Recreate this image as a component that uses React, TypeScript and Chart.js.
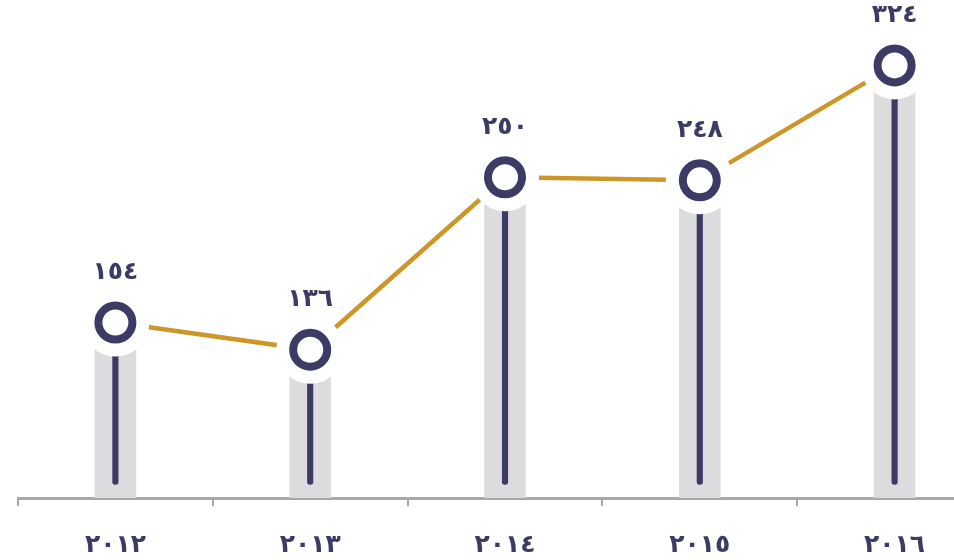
import React, { useEffect, useRef } from "react";
import { Chart, registerables } from "chart.js";

Chart.register(...registerables);

const years = [2012, 2013, 2014, 2015, 2016];
const values = [154, 136, 250, 248, 324];
const stemStart = 47;
const yMin = 38;
const yMax = 354;

const NAVY = "#3c3b66";
const GOLD = "#cc9629";
const GRAY = "#dcdcde";
const AXIS = "#a8a8a8";
const FONT = "'DejaVu Sans', sans-serif";

const toArabic = (n: number) =>
  String(n).replace(/[0-9]/g, (d) => "٠١٢٣٤٥٦٧٨٩"[+d]);

const valueLabels = {
  id: "valueLabels",
  afterDatasetsDraw(chart: any) {
    const meta = chart.getDatasetMeta(3);
    const ctx = chart.ctx;
    ctx.save();
    ctx.font = `bold 25px ${FONT}`;
    ctx.fillStyle = NAVY;
    ctx.textAlign = "center";
    ctx.textBaseline = "middle";
    meta.data.forEach((pt: any, i: number) => {
      ctx.fillText(toArabic(values[i]), pt.x, pt.y - 50);
    });
    ctx.restore();
  },
};

export default function App() {
  const ref = useRef<HTMLCanvasElement>(null);
  useEffect(() => {
    const chart = new Chart(ref.current as HTMLCanvasElement, {
      type: "bar",
      data: {
        labels: years.map(toArabic),
        datasets: [
          {
            type: "bar",
            data: values,
            backgroundColor: GRAY,
            barThickness: 41,
            grouped: false,
            order: 4,
          } as any,
          {
            type: "bar",
            data: values.map((v) => [stemStart, v]),
            backgroundColor: NAVY,
            barThickness: 5.5,
            borderRadius: 3,
            borderSkipped: false,
            grouped: false,
            order: 3,
          } as any,
          {
            type: "line",
            data: values,
            borderColor: GOLD,
            borderWidth: 4.5,
            tension: 0,
            pointRadius: 34,
            pointHoverRadius: 34,
            pointBackgroundColor: "#ffffff",
            pointBorderWidth: 0,
            clip: false,
            order: 2,
          } as any,
          {
            type: "line",
            data: values,
            showLine: false,
            pointRadius: 17,
            pointHoverRadius: 17,
            pointBackgroundColor: "#ffffff",
            pointBorderColor: NAVY,
            pointBorderWidth: 8,
            clip: false,
            order: 1,
          } as any,
        ],
      },
      options: {
        animation: false,
        responsive: true,
        maintainAspectRatio: false,
        layout: {
          autoPadding: false,
          padding: { left: 18, right: 8, top: 20, bottom: 0 },
        },
        plugins: { legend: { display: false }, tooltip: { enabled: false } },
        events: [],
        scales: {
          x: {
            offset: true,
            grid: {
              offset: true,
              drawOnChartArea: false,
              drawTicks: true,
              tickLength: 8,
              color: AXIS,
              lineWidth: 2,
            },
            border: { display: true, color: AXIS, width: 3 },
            ticks: {
              autoSkip: false,
              maxRotation: 0,
              padding: 24,
              color: NAVY,
              font: { family: FONT, size: 25, weight: "bold" },
            },
            afterFit: (scale: any) => {
              scale.height = 62;
              scale.paddingLeft = 0;
              scale.paddingRight = 0;
            },
          },
          y: {
            display: false,
            min: yMin,
            max: yMax,
          },
        },
      } as any,
      plugins: [valueLabels],
    });
    return () => chart.destroy();
  }, []);
  return (
    <div
      style={{
        position: "fixed",
        left: 0,
        top: 0,
        width: 954,
        height: 560,
        overflow: "hidden",
        background: "#fff",
      }}
    >
      <div style={{ width: 1000, height: 560, position: "relative" }}>
        <canvas ref={ref} />
      </div>
    </div>
  );
}
